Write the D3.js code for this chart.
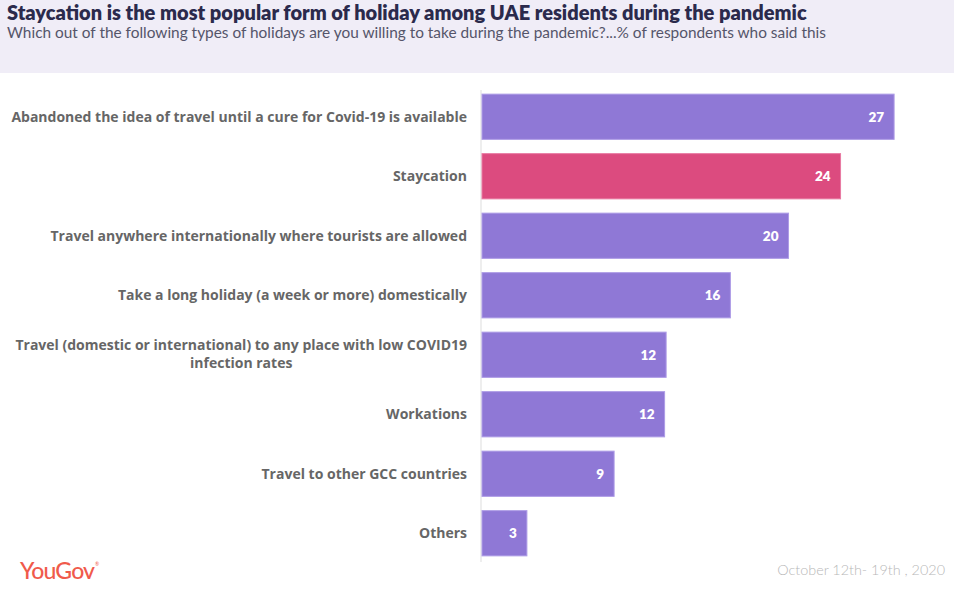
<!DOCTYPE html>
<html><head><meta charset="utf-8">
<script src="https://cdn.jsdelivr.net/npm/d3@7"></script>
<style>
body{margin:0;background:#fff;}
svg{display:block;font-family:Lato,"Open Sans",sans-serif;}
</style></head>
<body>
<svg id="chart" width="954" height="591"></svg>
<script>
const categories = [
  "Abandoned the idea of travel until a cure for Covid-19 is available",
  "Staycation",
  "Travel anywhere internationally where tourists are allowed",
  "Take a long holiday (a week or more) domestically",
  "Travel (domestic or international) to any place with low COVID19|infection rates",
  "Workations",
  "Travel to other GCC countries",
  "Others"
];
const values = [27.0, 23.5, 20.1, 16.3, 12.1, 12.0, 8.7, 3.0];
const labels = ["27", "24", "20", "16", "12", "12", "9", "3"];
const highlight = "Staycation";

const svg = d3.select("#chart");
const W = 954, H = 591;
const labelFont = "'Open Sans', Lato, sans-serif";

svg.append("rect").attr("x",0).attr("y",0).attr("width",W).attr("height",73).attr("fill","#f0edf7");
svg.append("text").attr("x",7).attr("y",20).attr("font-size",20).attr("font-weight",800)
  .attr("fill","#2b2a4c").text("Staycation is the most popular form of holiday among UAE residents during the pandemic");
svg.append("text").attr("x",7).attr("y",38).attr("font-size",15.4).attr("font-weight",400)
  .attr("fill","#55556a").text("Which out of the following types of holidays are you willing to take during the pandemic?...% of respondents who said this");

const x = d3.scaleLinear().domain([0, 30]).range([481, 940]);
const y = d3.scaleBand().domain(categories).range([87, 563]).paddingInner(0.24).paddingOuter(0.12);

svg.append("line").attr("x1",481).attr("x2",481).attr("y1",90).attr("y2",562)
  .attr("stroke","#dddddd").attr("stroke-width",1);

const g = svg.append("g");
g.selectAll("rect.bar").data(categories).join("rect").attr("class","bar")
  .attr("x", x(0)+1)
  .attr("y", d => y(d))
  .attr("width", (d,i) => x(values[i]) - x(0) - 1)
  .attr("height", y.bandwidth())
  .attr("fill", d => d === highlight ? "#dc4b7f" : "#8f78d6")
  .attr("stroke", d => d === highlight ? "#e87aa2" : "#ad9ce6")
  .attr("stroke-width", 1);

g.selectAll("text.val").data(categories).join("text").attr("class","val")
  .attr("x", (d,i) => x(values[i]) - 10)
  .attr("y", d => y(d) + y.bandwidth()/2 + 5)
  .attr("text-anchor","end").attr("font-size",13.5).attr("font-weight",800)
  .attr("fill","#ffffff").text((d,i) => labels[i]);

categories.forEach(c => {
  const lines = c.split("|");
  const cy = y(c) + y.bandwidth()/2;
  if (lines.length === 1) {
    svg.append("text").attr("x",467).attr("y",cy+5).attr("text-anchor","end")
      .style("font-family",labelFont)
      .attr("font-size",14).attr("font-weight",700).attr("fill","#666666").text(lines[0]);
  } else {
    const t1 = svg.append("text").attr("x",467).attr("y",cy-5).attr("text-anchor","end")
      .style("font-family",labelFont)
      .attr("font-size",14).attr("font-weight",700).attr("fill","#666666").text(lines[0]);
    const w = t1.node().getComputedTextLength();
    svg.append("text").attr("x",467 - w/2).attr("y",cy+13).attr("text-anchor","middle")
      .style("font-family",labelFont)
      .attr("font-size",14).attr("font-weight",700).attr("fill","#666666").text(lines[1]);
  }
});

svg.append("text").attr("x",20).attr("y",579).attr("font-size",23).attr("font-weight",500)
  .attr("fill","#f05a4b").attr("letter-spacing",-0.8).text("YouGov");
svg.append("text").attr("x",95).attr("y",566).attr("font-size",5).attr("fill","#f05a4b").text("®");

svg.append("text").attr("x",945).attr("y",575).attr("text-anchor","end").attr("font-size",14.4)
  .attr("font-weight",300).attr("fill","#b8b8b8").text("October 12th- 19th , 2020");
</script>
</body></html>
